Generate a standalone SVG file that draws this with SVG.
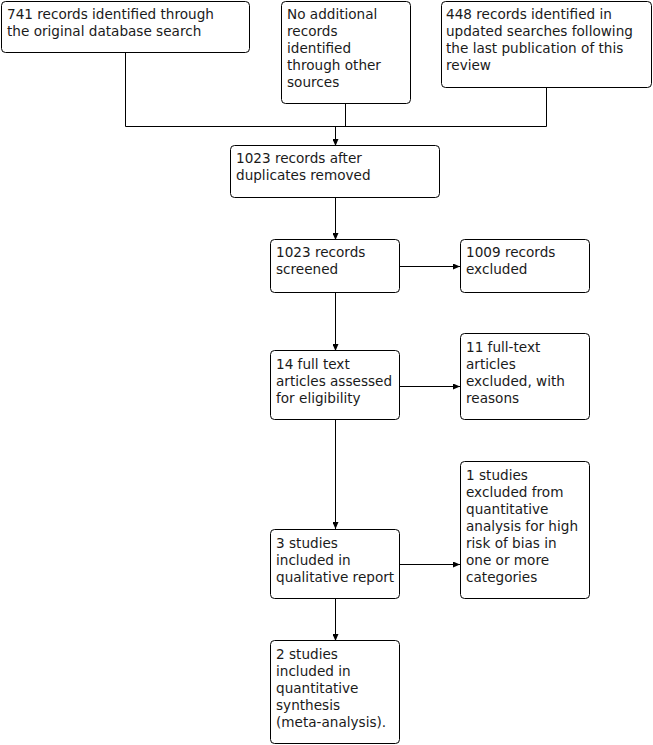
<svg xmlns="http://www.w3.org/2000/svg" width="653" height="745" viewBox="0 0 653 745">
<defs>
<style>
.box{fill:#fff;stroke:#000;stroke-width:1}
.t{font-family:"DejaVu Sans",sans-serif;font-size:13.6px;fill:#1a1a1a}
.c{fill:none;stroke:#000;stroke-width:1}
</style>
<marker id="ah" markerWidth="7" markerHeight="6" refX="7" refY="3" orient="auto" markerUnits="userSpaceOnUse">
<path d="M0,0 L7,3 L0,6 Z" fill="#000"/>
</marker>
</defs>
<rect width="653" height="745" fill="#fff"/>
<g id="connectors">
<path class="c" d="M125.5,53 V126.5 H546.5 V88"/>
<path class="c" d="M345.5,104 V126.5"/>
<path class="c" d="M335.5,126.5 V146" marker-end="url(#ah)"/>
<path class="c" d="M335.5,198 V240" marker-end="url(#ah)"/>
<path class="c" d="M400,266.5 H460" marker-end="url(#ah)"/>
<path class="c" d="M335.5,293 V351" marker-end="url(#ah)"/>
<path class="c" d="M400,386.5 H460" marker-end="url(#ah)"/>
<path class="c" d="M335.5,420 V529" marker-end="url(#ah)"/>
<path class="c" d="M400,564.5 H460" marker-end="url(#ah)"/>
<path class="c" d="M335.5,599 V641" marker-end="url(#ah)"/>
</g>
<g id="n1"><rect class="box" x="1.5" y="1.5" width="248" height="51" rx="4"/>
<text class="t" x="7" y="19">741 records identified through</text>
<text class="t" x="7" y="36">the original database search</text></g>
<g id="n2"><rect class="box" x="281.5" y="1.5" width="129" height="102" rx="4"/>
<text class="t" x="287" y="19">No additional</text>
<text class="t" x="287" y="36">records</text>
<text class="t" x="287" y="53">identified</text>
<text class="t" x="287" y="70">through other</text>
<text class="t" x="287" y="87">sources</text></g>
<g id="n3"><rect class="box" x="441.5" y="1.5" width="210" height="86" rx="4"/>
<text class="t" x="446" y="19">448 records identified in</text>
<text class="t" x="446" y="36">updated searches following</text>
<text class="t" x="446" y="53">the last publication of this</text>
<text class="t" x="446" y="70">review</text></g>
<g id="n4"><rect class="box" x="230.5" y="145.5" width="209" height="52" rx="4"/>
<text class="t" x="236" y="163">1023 records after</text>
<text class="t" x="236" y="180">duplicates removed</text></g>
<g id="n5"><rect class="box" x="270.5" y="239.5" width="129" height="53" rx="4"/>
<text class="t" x="276" y="257">1023 records</text>
<text class="t" x="276" y="274">screened</text></g>
<g id="n6"><rect class="box" x="460.5" y="239.5" width="129" height="53" rx="4"/>
<text class="t" x="466" y="257">1009 records</text>
<text class="t" x="466" y="274">excluded</text></g>
<g id="n7"><rect class="box" x="270.5" y="350.5" width="129" height="69" rx="4"/>
<text class="t" x="276" y="369">14 full text</text>
<text class="t" x="276" y="386">articles assessed</text>
<text class="t" x="276" y="403">for eligibility</text></g>
<g id="n8"><rect class="box" x="460.5" y="333.5" width="129" height="86" rx="4"/>
<text class="t" x="466" y="352">11 full-text</text>
<text class="t" x="466" y="369">articles</text>
<text class="t" x="466" y="386">excluded, with</text>
<text class="t" x="466" y="403">reasons</text></g>
<g id="n9"><rect class="box" x="270.5" y="529.5" width="129" height="69" rx="4"/>
<text class="t" x="276" y="548">3 studies</text>
<text class="t" x="276" y="565">included in</text>
<text class="t" x="276" y="582">qualitative report</text></g>
<g id="n10"><rect class="box" x="460.5" y="461.5" width="129" height="137" rx="4"/>
<text class="t" x="466" y="480">1 studies</text>
<text class="t" x="466" y="497">excluded from</text>
<text class="t" x="466" y="514">quantitative</text>
<text class="t" x="466" y="531">analysis for high</text>
<text class="t" x="466" y="548">risk of bias in</text>
<text class="t" x="466" y="565">one or more</text>
<text class="t" x="466" y="582">categories</text></g>
<g id="n11"><rect class="box" x="270.5" y="640.5" width="129" height="103" rx="4"/>
<text class="t" x="276" y="659">2 studies</text>
<text class="t" x="276" y="676">included in</text>
<text class="t" x="276" y="693">quantitative</text>
<text class="t" x="276" y="710">synthesis</text>
<text class="t" x="276" y="727">(meta-analysis).</text></g>
</svg>
